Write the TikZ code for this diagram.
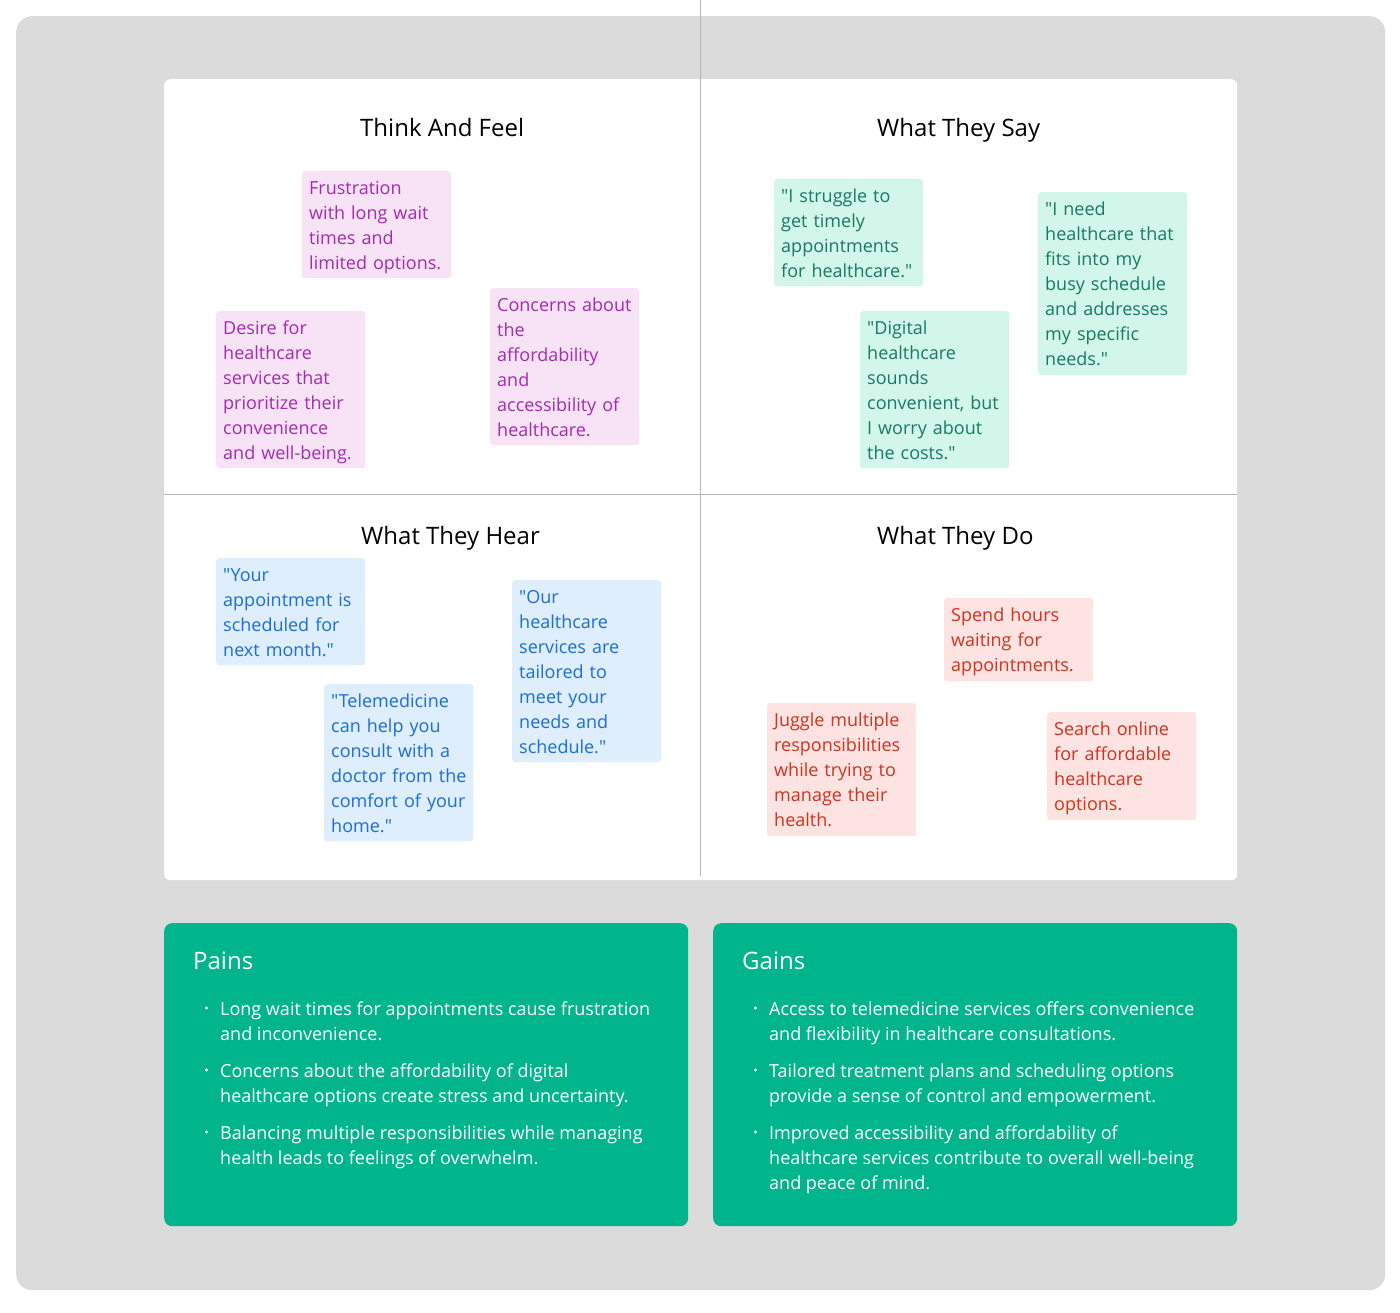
\documentclass[tikz,border=0pt]{standalone}
\usepackage{fontspec}
\setmainfont{Open Sans}[Ligatures=TeXOff]
\usetikzlibrary{calc}
\definecolor{bggrey}{HTML}{DBDBDB}
\definecolor{divline}{HTML}{B5B5B5}
\definecolor{pinkbg}{HTML}{F8E2F6}
\definecolor{pinkfg}{HTML}{A32BB0}
\definecolor{mintbg}{HTML}{D3F6EB}
\definecolor{mintfg}{HTML}{177A63}
\definecolor{bluebg}{HTML}{DEEEFD}
\definecolor{bluefg}{HTML}{1B6ED8}
\definecolor{redbg}{HTML}{FDE3E1}
\definecolor{redfg}{HTML}{D2321E}
\definecolor{tealbox}{HTML}{00B48C}
\newcommand{\notefont}{\fontsize{18}{25}\selectfont}
\newcommand{\headfont}{\fontsize{24}{29}\selectfont}
\newcommand{\lstrut}{\rule[-5.5pt]{0pt}{25pt}}
\newcommand{\ml}[1]{\lstrut\mbox{#1}}
\begin{document}
\begin{tikzpicture}[x=1pt,y=-1pt,
  panelbox/.style={anchor=north west, inner sep=0pt, draw=none},
  note/.style={anchor=north west, rounded corners=3pt, text width=135pt, inner xsep=7pt, inner ysep=3.5pt, align=left, font=\notefont},
  pinknote/.style={note, fill=pinkbg, text=pinkfg},
  mintnote/.style={note, fill=mintbg, text=mintfg},
  bluenote/.style={note, fill=bluebg, text=bluefg},
  rednote/.style={note, fill=redbg, text=redfg},
  heading/.style={anchor=base west, inner sep=0pt, font=\headfont, text=black},
  boxtitle/.style={anchor=base west, inner sep=0pt, font=\headfont, text=white},
  item/.style={anchor=north west, inner sep=0pt, align=left, font=\notefont, text=white},
  divider/.style={draw=divline, line width=1pt}
]
\useasboundingbox (0,0) rectangle (1400,1313);
\fill[white] (0,0) rectangle (1400,1313);

% background panels
\node[panelbox, fill=bggrey, rounded corners=16pt, minimum width=1369pt, minimum height=1274pt] (outer) at (16,16) {};
\node[panelbox, fill=white, rounded corners=6pt, minimum width=1073pt, minimum height=801pt] (panel) at (164,79) {};

% dividers
\coordinate (vtop) at (700,0);
\coordinate (vbot) at (700,876);
\coordinate (hl) at (164,494.5);
\coordinate (hr) at (1237,494.5);
\draw[divider] (vtop) -- (vbot);
\draw[divider] (hl) -- (hr);

% headings
\node[heading] (h1) at (360,137) {Think And Feel};
\node[heading] (h2) at (877,137) {What They Say};
\node[heading] (h3) at (361,544) {What They Hear};
\node[heading] (h4) at (877,544) {What They Do};

% Think and feel
\node[pinknote] (tf1) at (302,171) {\ml{Frustration}\\\ml{with long wait}\\\ml{times and}\\\ml{limited options.}};
\node[pinknote] (tf2) at (216,311) {\ml{Desire for}\\\ml{healthcare}\\\ml{services that}\\\ml{prioritize their}\\\ml{convenience}\\\ml{and well-being.}};
\node[pinknote] (tf3) at (490,288) {\ml{Concerns about}\\\ml{the}\\\ml{affordability}\\\ml{and}\\\ml{accessibility of}\\\ml{healthcare.}};

% What they say
\node[mintnote] (s1) at (774,179) {\ml{"I struggle to}\\\ml{get timely}\\\ml{appointments}\\\ml{for healthcare."}};
\node[mintnote] (s2) at (860,311) {\ml{"Digital}\\\ml{healthcare}\\\ml{sounds}\\\ml{convenient, but}\\\ml{I worry about}\\\ml{the costs."}};
\node[mintnote, inner ysep=4pt] (s3) at (1038,192) {\ml{"I need}\\\ml{healthcare that}\\\ml{fits into my}\\\ml{busy schedule}\\\ml{and addresses}\\\ml{my specific}\\\ml{needs."}};

% What they hear
\node[bluenote] (hr1) at (216,558) {\ml{"Your}\\\ml{appointment is}\\\ml{scheduled for}\\\ml{next month."}};
\node[bluenote] (hr2) at (324,684) {\ml{"Telemedicine}\\\ml{can help you}\\\ml{consult with a}\\\ml{doctor from the}\\\ml{comfort of your}\\\ml{home."}};
\node[bluenote] (hr3) at (512,580) {\ml{"Our}\\\ml{healthcare}\\\ml{services are}\\\ml{tailored to}\\\ml{meet your}\\\ml{needs and}\\\ml{schedule."}};

% What they do
\node[rednote, inner ysep=4pt] (d1) at (944,598) {\ml{Spend hours}\\\ml{waiting for}\\\ml{appointments.}};
\node[rednote, inner ysep=4pt] (d2) at (767,703) {\ml{Juggle multiple}\\\ml{responsibilities}\\\ml{while trying to}\\\ml{manage their}\\\ml{health.}};
\node[rednote, inner ysep=4pt] (d3) at (1047,712) {\ml{Search online}\\\ml{for affordable}\\\ml{healthcare}\\\ml{options.}};

% Pains and gains boxes
\node[panelbox, fill=tealbox, rounded corners=8pt, minimum width=524pt, minimum height=303pt] (pains) at (164,923) {};
\node[panelbox, fill=tealbox, rounded corners=8pt, minimum width=524pt, minimum height=303pt] (gains) at (713,923) {};

\node[boxtitle] (ptitle) at (193,969) {Pains};
\node[boxtitle] (gtitle) at (742,969) {Gains};

\node[item] (p1) at (220,995.5) {\ml{Long wait times for appointments cause frustration}\\\ml{and inconvenience.}};
\node[item] (p2) at (220,1057.5) {\ml{Concerns about the affordability of digital}\\\ml{healthcare options create stress and uncertainty.}};
\node[item] (p3) at (220,1119.5) {\ml{Balancing multiple responsibilities while managing}\\\ml{health leads to feelings of overwhelm.}};

\node[item] (g1) at (769,995.5) {\ml{Access to telemedicine services offers convenience}\\\ml{and flexibility in healthcare consultations.}};
\node[item] (g2) at (769,1057.5) {\ml{Tailored treatment plans and scheduling options}\\\ml{provide a sense of control and empowerment.}};
\node[item] (g3) at (769,1119.5) {\ml{Improved accessibility and affordability of}\\\ml{healthcare services contribute to overall well-being}\\\ml{and peace of mind.}};

\foreach \n in {p1,p2,p3,g1,g2,g3}{
  \fill[white] ($(\n.north west)+(-13.5,12.5)$) circle (1.7pt);
}
\end{tikzpicture}
\end{document}
